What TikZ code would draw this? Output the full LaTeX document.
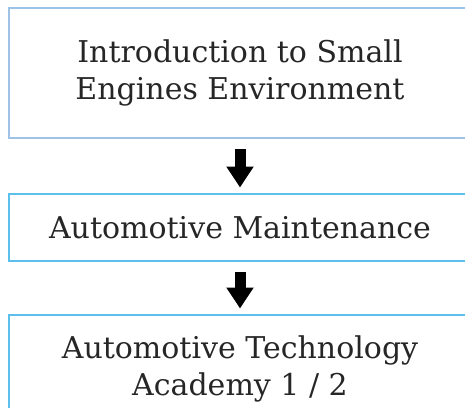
\documentclass[tikz,border=0pt]{standalone}
\usepackage{fontspec}
\setmainfont{DejaVu Serif}
\usetikzlibrary{arrows.meta}
\definecolor{paleblue}{HTML}{9DC3E6}
\definecolor{skyblue}{HTML}{5BC0EB}
\tikzset{
  course/.style={draw=skyblue, line width=2.5pt, minimum width=462pt, inner sep=0pt, outer sep=0pt,
    align=center, text=black!85, font=\fontsize{30}{37}\selectfont},
  flow/.style={line width=11pt, -{Triangle[width=26pt,length=21pt]}, shorten <=11pt, shorten >=6.5pt}
}
\begin{document}
\begin{tikzpicture}[x=1pt,y=1pt]
\useasboundingbox (0,0) rectangle (465,-407);
% course boxes
\node[course, draw=paleblue, minimum height=130pt] (intro) at (240,-73) {Introduction to Small\\Engines Environment};
\node[course, minimum height=67pt] (maint) at (240,-227.5) {Automotive Maintenance};
\node[course, minimum height=108pt] (academy) at (240,-369) {Automotive Technology\\Academy 1 / 2};
% arrows
\draw[flow] (intro) -- (maint);
\draw[flow] (maint) -- (academy);
\end{tikzpicture}
\end{document}
